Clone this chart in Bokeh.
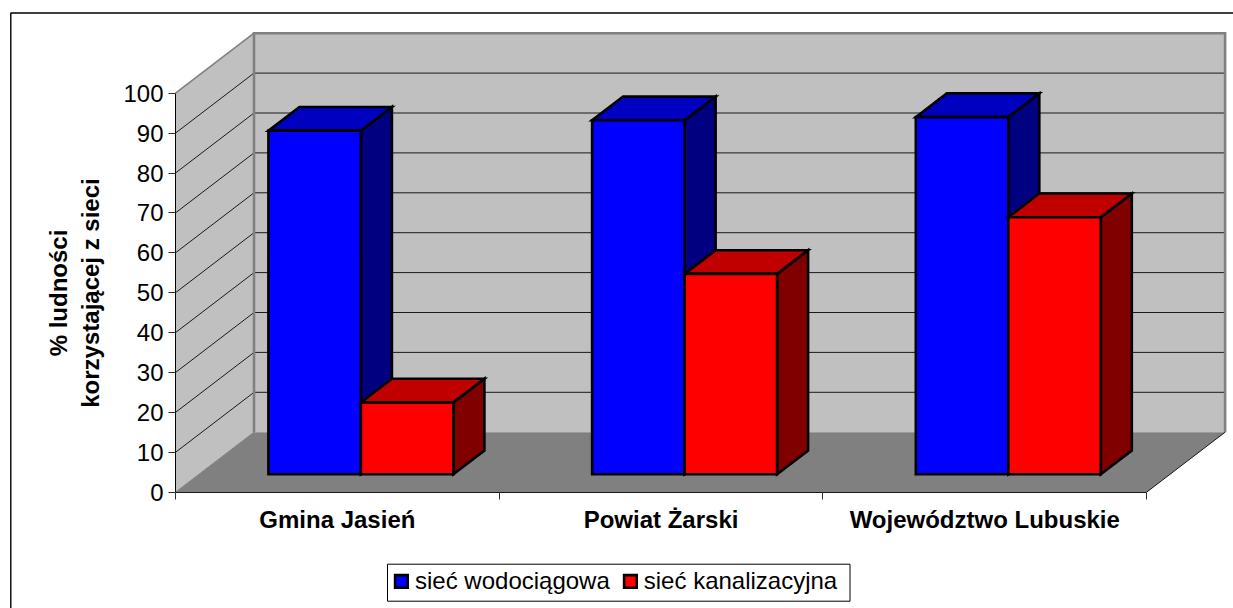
from bokeh.embed import file_html
from bokeh.resources import INLINE
from bokeh.plotting import figure
from bokeh.models import (FixedTicker, Legend, LegendItem, LinearAxis, Range1d)

# ---- data ----
categories = ["Gmina Jasień", "Powiat Żarski", "Województwo Lubuskie"]
siec_wodociagowa = [86.1, 88.7, 89.5]
siec_kanalizacyjna = [18.0, 50.2, 64.4]
y_ticks = [0, 10, 20, 30, 40, 50, 60, 70, 80, 90, 100]
series_names = ["sieć wodociągowa", "sieć kanalizacyjna"]
y_title = "% ludności\nkorzystającej z sieci"

# ---- layout ----
W, H = 1233, 608
OFF = 0
ORIGIN_X, ORIGIN_Y = 175.0, 491.7      # page pixels of (0, 0) on the front plane
PX_PER_CAT, PX_PER_VAL = 323.7, 3.99
DEPTH_X, DEPTH_Y = 78.5 / PX_PER_CAT, 60.0 / PX_PER_VAL  # full 3-D depth in data units
GAP_WIDTH = 1.5
BAR_DEPTH = 0.395
BAR_FRONT = 0.30
FONT = "Liberation Sans"


def proj(cat, val, depth=0.0):
    return cat + depth * DEPTH_X, val + depth * DEPTH_Y


def poly(*pts):
    xs, ys = zip(*[proj(*pt) for pt in pts])
    return list(xs), list(ys)


def px_x(px):
    return (px - ORIGIN_X) / PX_PER_CAT


def px_y(px):
    return (ORIGIN_Y - px) / PX_PER_VAL


p = figure(width=W, height=H, output_backend="svg", toolbar_location=None,
           x_range=Range1d(px_x(OFF), px_x(OFF + W)), y_range=Range1d(px_y(OFF + H), px_y(OFF)),
           min_border=0, min_border_left=0, min_border_right=0, min_border_top=0, min_border_bottom=0,
           x_axis_type=None, y_axis_type=None, outline_line_color=None)
p.grid.visible = False
p.background_fill_color = "white"

n_cat = len(categories)
y_max = y_ticks[-1]

# chart-area border (continues past the window on the right and at the bottom)
p.line([px_x(10.3), px_x(10.3), px_x(1240)], [px_y(620), px_y(12.5), px_y(12.5)],
       line_color="black", line_width=1.4)

# walls and floor
wx, wy = zip(poly((0, 0, 0), (0, 0, 1), (0, y_max, 1), (0, y_max, 0)),
             poly((0, 0, 1), (n_cat, 0, 1), (n_cat, y_max, 1), (0, y_max, 1)),
             poly((0, 0, 0), (0, 0, 1), (n_cat, 0, 1), (n_cat, 0, 0)))
p.patches(list(wx), list(wy), fill_color=["#C0C0C0", "#C0C0C0", "#808080"], line_color=None)

# grid lines
for t in y_ticks[1:-1]:
    xs, ys = poly((0, t, 0), (0, t, 1), (n_cat, t, 1))
    p.line(xs, ys, line_color="#1a1a1a", line_width=1)

# wall edges
xs, ys = poly((0, 0, 1), (0, y_max, 1), (n_cat, y_max, 1), (n_cat, 0, 1))
p.line(xs, ys, line_color="#808080", line_width=2.6, line_join="miter")
xs, ys = poly((0, y_max, 0), (0, y_max, 1))
p.line(xs, ys, line_color="#808080", line_width=1.6)
xs, ys = poly((0, 0, 0), (0, 0, 1))
p.line(xs, ys, line_color="#808080", line_width=1)
xs, ys = poly((n_cat, 0, 0), (n_cat, 0, 1))
p.line(xs, ys, line_color="#1a1a1a", line_width=1)

# bars
bar_w = 1.0 / (2 + GAP_WIDTH)
series = [
    (siec_wodociagowa, "#0000FF", "#0000C0", "#000080"),
    (siec_kanalizacyjna, "#FF0000", "#C00000", "#800000"),
]
legend_renderers = {}
d0, d1 = BAR_FRONT, BAR_FRONT + BAR_DEPTH
for c in range(n_cat):
    for s, (vals, front, top, side) in enumerate(series):
        l = c + GAP_WIDTH * bar_w / 2 + s * bar_w
        r = l + bar_w
        v = vals[c]
        faces = [
            (poly((r, 0, d0), (r, 0, d1), (r, v, d1), (r, v, d0)), side),
            (poly((l, v, d0), (r, v, d0), (r, v, d1), (l, v, d1)), top),
            (poly((l, 0, d0), (r, 0, d0), (r, v, d0), (l, v, d0)), front),
        ]
        for (xs, ys), col in faces:
            rr = p.patch(xs, ys, fill_color=col, line_color="black", line_width=2.6, line_join="miter")
        legend_renderers.setdefault(s, rr)

# front floor edge / axes
y_axis = LinearAxis(fixed_location=0, bounds=(0, y_max), ticker=FixedTicker(ticks=y_ticks),
                    axis_line_color="black", axis_line_width=1,
                    major_tick_in=0, major_tick_out=7, major_tick_line_color="#303030",
                    minor_tick_line_color=None,
                    major_label_text_font=FONT, major_label_text_font_size="24px",
                    major_label_text_color="black", major_label_standoff=5,
                    axis_label=y_title, axis_label_text_font=FONT,
                    axis_label_text_font_size="24px", axis_label_text_font_style="bold",
                    axis_label_text_color="black", axis_label_standoff=16)
p.add_layout(y_axis, "left")

x_ticks_axis = LinearAxis(fixed_location=0, bounds=(0, n_cat), ticker=FixedTicker(ticks=list(range(n_cat + 1))),
                          axis_line_color="#1a1a1a", axis_line_width=1,
                          major_tick_in=0, major_tick_out=7, major_tick_line_color="#303030",
                          minor_tick_line_color=None, major_label_text_color=None)
p.add_layout(x_ticks_axis, "below")

centers = [c + 0.5 for c in range(n_cat)]
x_labels_axis = LinearAxis(fixed_location=0, ticker=FixedTicker(ticks=centers),
                           major_label_overrides={c: n for c, n in zip(centers, categories)},
                           axis_line_color=None, major_tick_line_color=None, minor_tick_line_color=None,
                           major_tick_in=0, major_tick_out=0, major_label_standoff=14,
                           major_label_text_font=FONT, major_label_text_font_size="24px",
                           major_label_text_font_style="bold", major_label_text_color="black")
p.add_layout(x_labels_axis, "below")

# legend frame, then the legend itself
p.quad(left=[px_x(387)], right=[px_x(849.5)], top=[px_y(563.7)], bottom=[px_y(600.7)],
       fill_color="white", line_color="black", line_width=1)
legend = Legend(items=[LegendItem(label=series_names[i], renderers=[legend_renderers[i]]) for i in range(2)],
                orientation="horizontal", location=(393, 13),
                label_text_font=FONT, label_text_font_size="24px", label_text_color="black",
                glyph_width=16, glyph_height=16, spacing=12, padding=6, margin=0,
                label_standoff=6, border_line_color=None,
                background_fill_color=None, background_fill_alpha=0)
p.add_layout(legend, "center")

open("out.html", "w").write(file_html(p, INLINE))
